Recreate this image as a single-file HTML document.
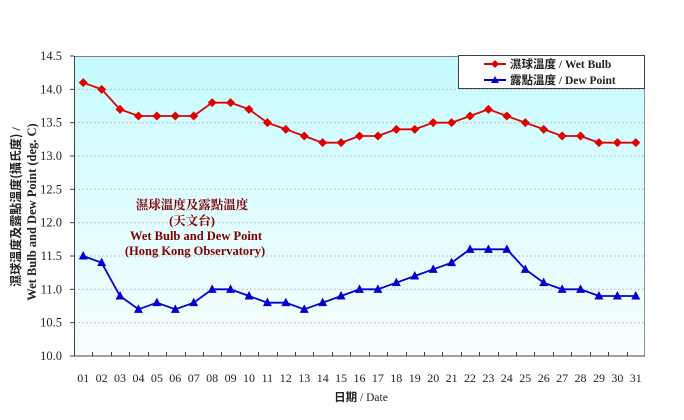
<!DOCTYPE html>
<html><head><meta charset="utf-8"><style>
html,body{margin:0;padding:0;background:#fff;}
svg{display:block;}
text{font-family:"Liberation Serif","Noto Serif CJK SC","Noto Sans CJK TC",serif;}
</style></head><body>
<svg id="c" width="684" height="420" viewBox="0 0 684 420" xmlns="http://www.w3.org/2000/svg">
<defs>
<linearGradient id="bg" x1="0" y1="0" x2="0" y2="1">
<stop offset="0" stop-color="#c6fbff"/>
<stop offset="1" stop-color="#f8feff"/>
</linearGradient>
</defs>
<rect x="74" y="56" width="571" height="300" fill="url(#bg)"/>
<g id="grid" stroke="#b8c4c8" stroke-width="1" stroke-dasharray="2,2">
<line x1="74" x2="645" y1="89.3" y2="89.3"/>
<line x1="74" x2="645" y1="122.7" y2="122.7"/>
<line x1="74" x2="645" y1="156" y2="156"/>
<line x1="74" x2="645" y1="189.3" y2="189.3"/>
<line x1="74" x2="645" y1="222.7" y2="222.7"/>
<line x1="74" x2="645" y1="256" y2="256"/>
<line x1="74" x2="645" y1="289.3" y2="289.3"/>
<line x1="74" x2="645" y1="322.7" y2="322.7"/>
</g>
<line x1="74" x2="645" y1="56.5" y2="56.5" stroke="#808080"/>
<line x1="644.5" x2="644.5" y1="56" y2="356" stroke="#909090"/>
<line x1="74.5" x2="74.5" y1="56" y2="356.5" stroke="#404040"/>
<line x1="74" x2="645" y1="356" y2="356" stroke="#404040"/>
<g id="ticks" stroke="#404040"></g>
<g font-size="12.5" fill="#222" text-anchor="end">
<text x="62" y="60">14.5</text>
<text x="62" y="93.3">14.0</text>
<text x="62" y="126.7">13.5</text>
<text x="62" y="160">13.0</text>
<text x="62" y="193.3">12.5</text>
<text x="62" y="226.7">12.0</text>
<text x="62" y="260">11.5</text>
<text x="62" y="293.3">11.0</text>
<text x="62" y="326.7">10.5</text>
<text x="62" y="360">10.0</text>
</g>
<g font-size="12" fill="#222" text-anchor="middle">
<text x="83.2" y="382">01</text><text x="101.6" y="382">02</text><text x="120.0" y="382">03</text><text x="138.5" y="382">04</text><text x="156.9" y="382">05</text><text x="175.3" y="382">06</text><text x="193.7" y="382">07</text><text x="212.1" y="382">08</text><text x="230.6" y="382">09</text><text x="249.0" y="382">10</text><text x="267.4" y="382">11</text><text x="285.8" y="382">12</text><text x="304.2" y="382">13</text><text x="322.7" y="382">14</text><text x="341.1" y="382">15</text><text x="359.5" y="382">16</text><text x="377.9" y="382">17</text><text x="396.3" y="382">18</text><text x="414.8" y="382">19</text><text x="433.2" y="382">20</text><text x="451.6" y="382">21</text><text x="470.0" y="382">22</text><text x="488.4" y="382">23</text><text x="506.8" y="382">24</text><text x="525.3" y="382">25</text><text x="543.7" y="382">26</text><text x="562.1" y="382">27</text><text x="580.5" y="382">28</text><text x="599.0" y="382">29</text><text x="617.4" y="382">30</text><text x="635.8" y="382">31</text>
</g>
<text x="361" y="401" font-size="11.5" fill="#222" text-anchor="middle"><tspan font-weight="bold" font-family="'Noto Sans CJK TC',sans-serif">日期</tspan> / Date</text>
<text transform="translate(20,207) rotate(-90)" font-size="12" font-weight="bold" fill="#222" text-anchor="middle"><tspan font-family="'Noto Sans CJK TC',sans-serif">濕球溫度及露點溫度(攝氏度)</tspan> /</text>
<text transform="translate(36,212) rotate(-90)" font-size="12.5" font-weight="bold" fill="#222" text-anchor="middle">Wet Bulb and Dew Point (deg. C)</text>
<g fill="#800000" text-anchor="middle" font-size="12.5" font-weight="bold">
<text x="192" y="209" font-family="'Noto Sans CJK TC',sans-serif">濕球溫度及露點溫度</text>
<text x="192" y="225" font-family="'Noto Sans CJK TC',sans-serif">(天文台)</text>
<text x="196" y="240">Wet Bulb and Dew Point</text>
<text x="195" y="255">(Hong Kong Observatory)</text>
</g>
<g id="series"></g>
<rect x="458.5" y="55.5" width="186" height="33" fill="#fff" stroke="#404040"/>
<line x1="484" x2="506" y1="64" y2="64" stroke="#e00000" stroke-width="2"/>
<polygon points="495,60 499,64 495,68 491,64" fill="#e00000"/>
<line x1="484" x2="506" y1="80" y2="80" stroke="#0000d0" stroke-width="2"/>
<polygon points="495,76 499,83 491,83" fill="#0000d0"/>
<g font-size="11.5" fill="#222" font-weight="bold">
<text x="510" y="68"><tspan font-family="'Noto Sans CJK TC',sans-serif">濕球溫度</tspan> / Wet Bulb</text>
<text x="510" y="84"><tspan font-family="'Noto Sans CJK TC',sans-serif">露點溫度</tspan> / Dew Point</text>
</g>
</svg>
<script>
(function(){
var NS="http://www.w3.org/2000/svg";
var wb=[14.1,14.0,13.7,13.6,13.6,13.6,13.6,13.8,13.8,13.7,13.5,13.4,13.3,13.2,13.2,13.3,13.3,13.4,13.4,13.5,13.5,13.6,13.7,13.6,13.5,13.4,13.3,13.3,13.2,13.2,13.2];
var dp=[11.5,11.4,10.9,10.7,10.8,10.7,10.8,11.0,11.0,10.9,10.8,10.8,10.7,10.8,10.9,11.0,11.0,11.1,11.2,11.3,11.4,11.6,11.6,11.6,11.3,11.1,11.0,11.0,10.9,10.9,10.9];
var w=571/31;
function X(i){return 74+w*(i+0.5);}
function Y(v){return 356-(v-10)*300/4.5;}
var t=document.getElementById("ticks");
for(var k=1;k<31;k++){var l=document.createElementNS(NS,"line");var x=Math.round(74+w*k)+0.5;l.setAttribute("x1",x);l.setAttribute("x2",x);l.setAttribute("y1",352);l.setAttribute("y2",356);t.appendChild(l);}
for(var k=0;k<=9;k++){var l=document.createElementNS(NS,"line");var y=356-k*300/9;l.setAttribute("x1",70);l.setAttribute("x2",74);l.setAttribute("y1",y);l.setAttribute("y2",y);t.appendChild(l);}
var g=document.getElementById("series");
function draw(d,col,mk){
var p=d.map(function(v,i){return X(i).toFixed(1)+","+Y(v).toFixed(1);}).join(" ");
var pl=document.createElementNS(NS,"polyline");pl.setAttribute("points",p);pl.setAttribute("fill","none");pl.setAttribute("stroke",col);pl.setAttribute("stroke-width","1.8");g.appendChild(pl);
d.forEach(function(v,i){var x=X(i),y=Y(v);var pg=document.createElementNS(NS,"polygon");var pts;
if(mk=="d")pts=[x,y-4.5,x+4.5,y,x,y+4.5,x-4.5,y];else pts=[x,y-5,x+4.5,y+3.5,x-4.5,y+3.5];
pg.setAttribute("points",pts.join(","));pg.setAttribute("fill",col);g.appendChild(pg);});
}
draw(wb,"#e00000","d");
draw(dp,"#0000d0","t");
})();
</script>
</body></html>
